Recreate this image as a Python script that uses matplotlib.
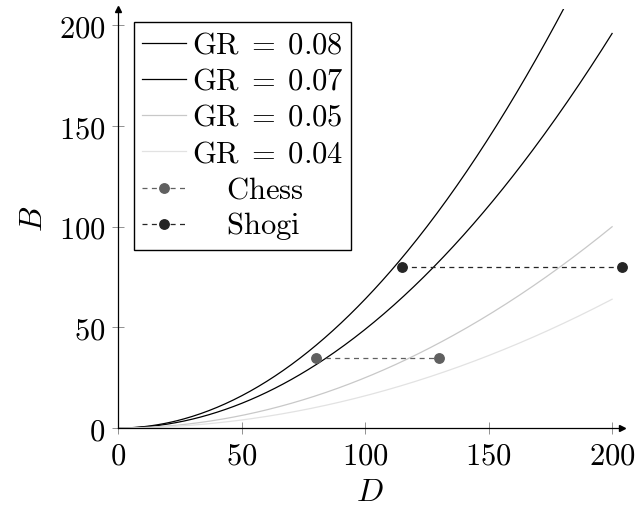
import numpy as np
import matplotlib.pyplot as plt

plt.rcParams['mathtext.fontset'] = 'cm'
plt.rcParams['font.family'] = 'serif'
plt.rcParams['font.serif'] = ['DejaVu Serif']

# growth rates and their curve colours
gr_values = [0.08, 0.07, 0.05, 0.04]
gr_colors = ['#000000', '#000000', '#c8c8c8', '#e2e2e2']

# game points (D, B)
chess_d = [80, 130]
chess_b = [35, 35]
shogi_d = [115, 204]
shogi_b = [80, 80]

xticks = [0, 50, 100, 150, 200]
yticks = [0, 50, 100, 150, 200]

fig = plt.figure(figsize=(6.35, 5.09), dpi=100)
ax = fig.add_axes([0.1858, 0.159, 0.7937, 0.8227])

d = np.linspace(0, 200, 300)
for gr, c in zip(gr_values, gr_colors):
    ax.plot(d, (gr * d) ** 2, color=c, lw=0.9, label=r'$\mathrm{GR}\;=\;%.2f$' % gr)

ax.plot(chess_d, chess_b, ls=(0, (4, 3.5)), color='#606060', lw=0.9,
        marker='o', ms=6.8, label=r'$\quad\;\mathrm{Chess}$', clip_on=False)
ax.plot(shogi_d, shogi_b, ls=(0, (4, 3.5)), color='#262626', lw=0.9,
        marker='o', ms=6.8, label=r'$\quad\;\mathrm{Shogi}$', clip_on=False)

ax.set_xlim(0, 204)
ax.set_ylim(0, 208)
ax.set_xticks(xticks)
ax.set_yticks(yticks)
ax.set_xticklabels(['$%d$' % t for t in xticks])
ax.set_yticklabels(['$%d$' % t for t in yticks])
ax.tick_params(direction='inout', length=8, width=0.6, color='#808080',
               labelsize=22, pad=5)

ax.spines['top'].set_visible(False)
ax.spines['right'].set_visible(False)
ax.spines['left'].set_linewidth(0.9)
ax.spines['bottom'].set_linewidth(0.9)
ax.plot(1, 0, '>k', ms=5, transform=ax.get_yaxis_transform(), clip_on=False)
ax.plot(0, 1, '^k', ms=5, transform=ax.get_xaxis_transform(), clip_on=False)

ax.set_xlabel('$D$', fontsize=23, labelpad=4)
ax.set_ylabel('$B$', fontsize=23, labelpad=7)

leg = ax.legend(loc='upper left', bbox_to_anchor=(0.032, 0.97), borderaxespad=0,
                fontsize=22, frameon=True, fancybox=False, framealpha=1,
                edgecolor='black', handlelength=1.45, handletextpad=0.2,
                labelspacing=0.17, borderpad=0.25)
leg.get_frame().set_linewidth(1.0)

fig.savefig('out.png', dpi=100)
